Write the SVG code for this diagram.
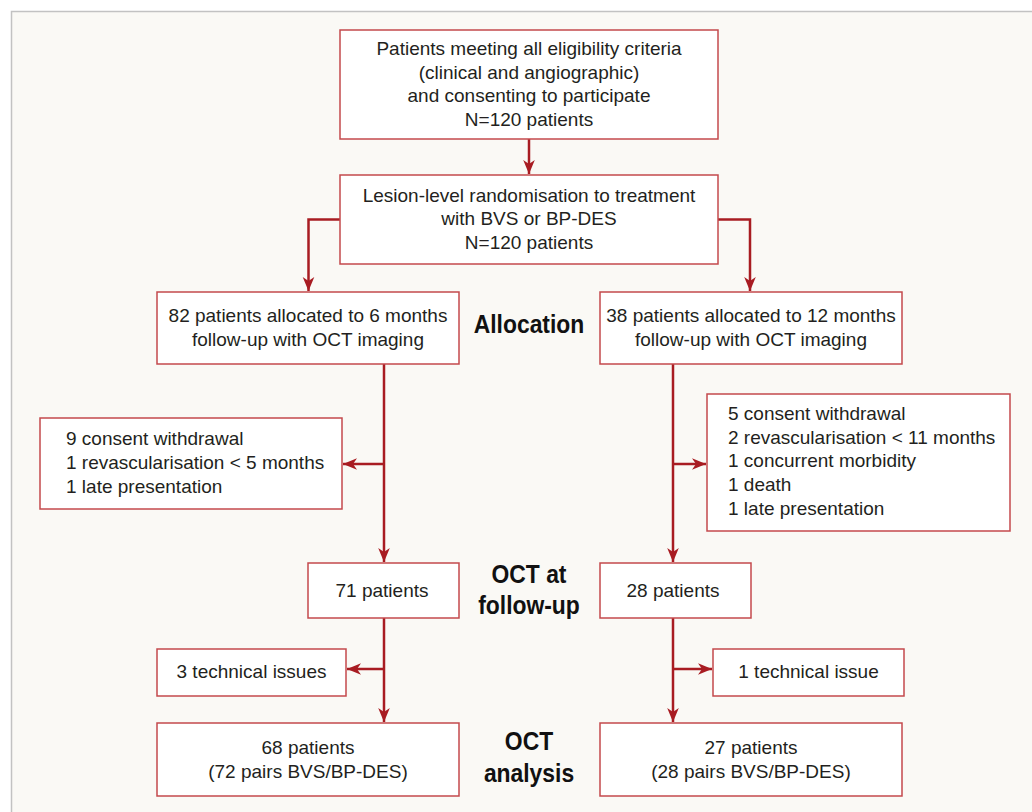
<svg xmlns="http://www.w3.org/2000/svg" width="1032" height="812" viewBox="0 0 1032 812">
<style>
.box{fill:#ffffff;stroke:#c4494c;stroke-width:1.5}
.t{font-family:"Liberation Sans",Arial,sans-serif;font-size:19px;fill:#231f20}
.c{text-anchor:middle}
.h{font-family:"Liberation Sans",Arial,sans-serif;font-weight:bold;font-size:26px;fill:#111;text-anchor:middle}
.ln{fill:none;stroke:#a81c22;stroke-width:2.5}
</style>
<defs>
<marker id="ah" markerUnits="userSpaceOnUse" markerWidth="16" markerHeight="14" refX="15" refY="7" orient="auto">
<path d="M1,1.2 L15,7 L1,12.8 L5,7 Z" fill="#a81c22"/>
</marker>
</defs>
<rect x="11.5" y="11.5" width="1040" height="820" fill="#faf9f5" stroke="#c2c2c2" stroke-width="1.5"/>

<g id="connectors">
<path class="ln" d="M529,139 V174" marker-end="url(#ah)"/>
<path class="ln" d="M340,219.5 H308.5 V291" marker-end="url(#ah)"/>
<path class="ln" d="M718,219.5 H750 V291" marker-end="url(#ah)"/>
<path class="ln" d="M384,364 V562" marker-end="url(#ah)"/>
<path class="ln" d="M384,464 H343" marker-end="url(#ah)"/>
<path class="ln" d="M673,364 V562" marker-end="url(#ah)"/>
<path class="ln" d="M673,464 H706" marker-end="url(#ah)"/>
<path class="ln" d="M384,618 V722" marker-end="url(#ah)"/>
<path class="ln" d="M384,669 H347" marker-end="url(#ah)"/>
<path class="ln" d="M673,618 V722" marker-end="url(#ah)"/>
<path class="ln" d="M673,669 H712" marker-end="url(#ah)"/>
</g>

<g id="eligible">
<rect class="box" x="340" y="30" width="378" height="109"/>
<text class="t c" x="529" y="55">Patients meeting all eligibility criteria</text>
<text class="t c" x="529" y="78.5">(clinical and angiographic)</text>
<text class="t c" x="529" y="102">and consenting to participate</text>
<text class="t c" x="529" y="125.5">N=120 patients</text>
</g>

<g id="randomisation">
<rect class="box" x="340" y="175" width="378" height="89"/>
<text class="t c" x="529" y="201.5">Lesion-level randomisation to treatment</text>
<text class="t c" x="529" y="225">with BVS or BP-DES</text>
<text class="t c" x="529" y="248.5">N=120 patients</text>
</g>

<g id="alloc6">
<rect class="box" x="157" y="292" width="302" height="72"/>
<text class="t c" x="308" y="322">82 patients allocated to 6 months</text>
<text class="t c" x="308" y="346">follow-up with OCT imaging</text>
</g>

<g id="alloc12">
<rect class="box" x="600" y="292" width="302" height="72"/>
<text class="t c" x="751" y="322">38 patients allocated to 12 months</text>
<text class="t c" x="751" y="346">follow-up with OCT imaging</text>
</g>

<g id="label-allocation" transform="translate(529,0) scale(0.88,1)">
<text class="h" x="0" y="333">Allocation</text>
</g>

<g id="excl6">
<rect class="box" x="40" y="418" width="302" height="91"/>
<text class="t" x="66" y="445">9 consent withdrawal</text>
<text class="t" x="66" y="469">1 revascularisation &lt; 5 months</text>
<text class="t" x="66" y="493">1 late presentation</text>
</g>

<g id="excl12">
<rect class="box" x="707" y="394" width="303" height="137"/>
<text class="t" x="728" y="420">5 consent withdrawal</text>
<text class="t" x="728" y="443.7">2 revascularisation &lt; 11 months</text>
<text class="t" x="728" y="467.4">1 concurrent morbidity</text>
<text class="t" x="728" y="491">1 death</text>
<text class="t" x="728" y="515">1 late presentation</text>
</g>

<g id="fu6">
<rect class="box" x="308" y="563" width="151" height="55"/>
<text class="t c" x="382" y="597">71 patients</text>
</g>

<g id="fu12">
<rect class="box" x="600" y="563" width="151" height="55"/>
<text class="t c" x="673" y="597">28 patients</text>
</g>

<g id="label-followup" transform="translate(529,0) scale(0.88,1)">
<text class="h" x="0" y="583">OCT at</text>
<text class="h" x="0" y="614">follow-up</text>
</g>

<g id="tech6">
<rect class="box" x="157" y="649" width="189" height="47"/>
<text class="t c" x="251.5" y="678">3 technical issues</text>
</g>

<g id="tech12">
<rect class="box" x="713" y="649" width="191" height="47"/>
<text class="t c" x="808.5" y="678">1 technical issue</text>
</g>

<g id="analysis6">
<rect class="box" x="157" y="723" width="302" height="73"/>
<text class="t c" x="308" y="754">68 patients</text>
<text class="t c" x="308" y="778">(72 pairs BVS/BP-DES)</text>
</g>

<g id="analysis12">
<rect class="box" x="600" y="723" width="302" height="73"/>
<text class="t c" x="751" y="754">27 patients</text>
<text class="t c" x="751" y="778">(28 pairs BVS/BP-DES)</text>
</g>

<g id="label-analysis" transform="translate(529,0) scale(0.88,1)">
<text class="h" x="0" y="750">OCT</text>
<text class="h" x="0" y="782">analysis</text>
</g>
</svg>
